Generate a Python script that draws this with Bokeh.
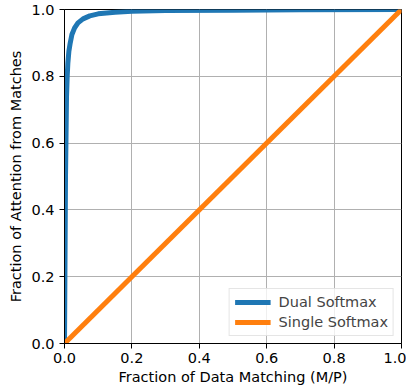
from bokeh.plotting import figure
from bokeh.models import FixedTicker, Range1d, Legend, LegendItem
from bokeh.embed import file_html
from bokeh.resources import INLINE

# Data
dual_x = [0.0, 0.003, 0.006, 0.008, 0.010, 0.013, 0.017, 0.022, 0.030, 0.040,
          0.055, 0.075, 0.10, 0.15, 0.20, 0.30, 0.50, 0.70, 1.0]
dual_y = [0.0, 0.50, 0.74, 0.80, 0.84, 0.875, 0.90, 0.925, 0.945, 0.960,
          0.972, 0.981, 0.987, 0.992, 0.995, 0.997, 0.998, 0.999, 1.0]
single_x = [0.0, 1.0]
single_y = [0.0, 1.0]
ticks = [0.0, 0.2, 0.4, 0.6, 0.8, 1.0]
tick_labels = ["0.0", "0.2", "0.4", "0.6", "0.8", "1.0"]

FONT = "DejaVu Sans"

p = figure(width=406, height=387, output_backend="svg", toolbar_location=None,
           x_range=Range1d(0, 1), y_range=Range1d(0, 1),
           min_border_left=64, min_border_right=5, min_border_top=9, min_border_bottom=42)

p.outline_line_color = "black"
p.outline_line_width = 1
p.outline_line_alpha = 1

r1 = p.line(dual_x, dual_y, line_color="#1f77b4", line_width=5)
r2 = p.line(single_x, single_y, line_color="#ff7f0e", line_width=5)

for ax in (p.xaxis[0], p.yaxis[0]):
    ax.ticker = FixedTicker(ticks=ticks)
    ax.major_label_overrides = {t: l for t, l in zip(ticks, tick_labels)}
    ax.major_tick_out = 5
    ax.major_tick_in = 0
    ax.minor_tick_out = 0
    ax.minor_tick_in = 0
    ax.major_tick_line_color = "black"
    ax.axis_line_color = "black"
    ax.major_label_text_font = FONT
    ax.major_label_text_font_size = "14.5px"
    ax.major_label_text_color = "black"
    ax.axis_label_text_font = FONT
    ax.axis_label_text_font_size = "14.5px"
    ax.axis_label_text_font_style = "normal"
    ax.axis_label_text_color = "black"

p.xaxis.axis_label = "Fraction of Data Matching (M/P)"
p.yaxis.axis_label = "Fraction of Attention from Matches"
p.xaxis.major_label_standoff = 4
p.yaxis.major_label_standoff = 5
p.xaxis.axis_label_standoff = 3
p.yaxis.axis_label_standoff = 4

p.grid.grid_line_color = "#b0b0b0"
p.grid.grid_line_width = 1

legend = Legend(items=[LegendItem(label="Dual Softmax", renderers=[r1]),
                       LegendItem(label="Single Softmax", renderers=[r2])],
                location="bottom_right")
legend.label_text_font = FONT
legend.label_text_font_size = "14.5px"
legend.border_line_color = "#cccccc"
legend.border_line_width = 1
legend.background_fill_alpha = 0.8
legend.glyph_width = 36
legend.glyph_height = 16
legend.label_height = 16
legend.spacing = 4
legend.padding = 5
legend.margin = 7
legend.label_standoff = 8
p.add_layout(legend)

open("out.html", "w").write(file_html(p, INLINE))
